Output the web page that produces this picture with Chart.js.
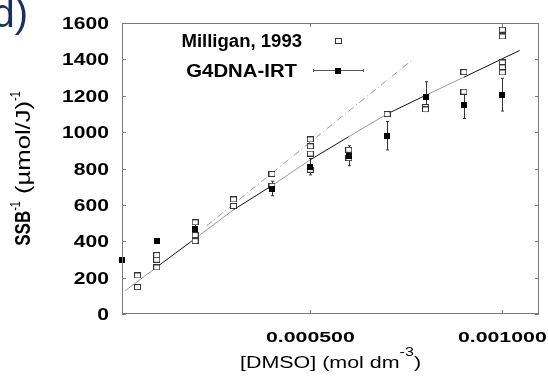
<!DOCTYPE html>
<html>
<head>
<meta charset="utf-8">
<script src="https://cdn.jsdelivr.net/npm/chart.js@4"></script>
<style>
  body { margin: 0; background: #fff; }
</style>
</head>
<body>
<canvas id="ssbChart" width="548" height="382"></canvas>
<script>
// Milligan, 1993 (open squares)
const milliganX = [0.00005, 0.00005, 0.0001, 0.0001, 0.0001, 0.0002, 0.0002, 0.0002, 0.0003, 0.0003,
  0.0004, 0.0004, 0.0005, 0.0005, 0.0005, 0.0005, 0.0006, 0.0006, 0.0007, 0.0008, 0.0008,
  0.0009, 0.0009, 0.001, 0.001, 0.001, 0.001, 0.001];
const milliganY = [212, 148, 324, 298, 256, 504, 434, 401, 630, 594,
  770, 705, 960, 922, 882, 793, 903, 857, 1099, 1138, 1125,
  1330, 1222, 1563, 1526, 1383, 1356, 1328];

// G4DNA-IRT (filled squares with error bars)
const g4dnaX = [0.00001, 0.0001, 0.0002, 0.0004, 0.0005, 0.0006, 0.0007, 0.0008, 0.0009, 0.001];
const g4dnaY = [295, 403, 470, 690, 810, 870, 980, 1195, 1150, 1206];
const g4dnaErr = [0, 10, 22, 40, 45, 55, 78, 82, 75, 90];

// solid fit curve and dash-dot line
const fitX = [0.000018, 0.0001, 0.0002, 0.0003, 0.0004, 0.0005, 0.0006, 0.0007, 0.0008, 0.0009, 0.001045];
const fitY = [128, 258, 415, 573, 706, 848, 975, 1100, 1202, 1302, 1449];
const dashX = [0.00023, 0.00077];
const dashY = [485, 1405];

// ticks
const yTicks = [0, 200, 400, 600, 800, 1000, 1200, 1400, 1600];
const xTickValues = [0.0005, 0.001];
const xTickLabels = ["0.000500", "0.001000"];

const FONT = '"Liberation Sans", Arial, sans-serif';

function makeSquare(w, h, fill, stroke) {
  const c = document.createElement("canvas");
  c.width = w;
  c.height = h;
  const g = c.getContext("2d");
  g.fillStyle = fill;
  g.fillRect(0, 0, w, h);
  if (stroke) {
    g.strokeStyle = stroke;
    g.lineWidth = 1;
    g.strokeRect(0.5, 0.5, w - 1, h - 1);
  }
  return c;
}
const openSquare = makeSquare(7, 6, "#fff", "#333");
const blackSquare = makeSquare(6, 6, "#000");

// text stretched horizontally, like the source figure
function stretchedText(ctx, text, x, y, font, sx, align) {
  ctx.save();
  ctx.translate(x, y);
  ctx.scale(sx, 1);
  ctx.font = font;
  ctx.textAlign = align || "left";
  ctx.textBaseline = "alphabetic";
  ctx.fillText(text, 0, 0);
  ctx.restore();
}

// draws parts (with superscripts) along the current x direction, centred on 0
function drawParts(ctx, parts) {
  let total = 0;
  parts.forEach((p) => {
    ctx.font = p.font;
    p.w = ctx.measureText(p.text).width * (p.sx || 1);
    total += p.w;
  });
  let x = -total / 2;
  parts.forEach((p) => {
    ctx.save();
    ctx.translate(x, -(p.raise || 0));
    ctx.scale(p.sx || 1, 1);
    ctx.font = p.font;
    ctx.textAlign = "left";
    ctx.textBaseline = "alphabetic";
    ctx.fillText(p.text, 0, 0);
    ctx.restore();
    x += p.w;
  });
}

const errorBars = {
  id: "errorBars",
  beforeDatasetsDraw(chart) {
    const ctx = chart.ctx;
    const xs = chart.scales.x;
    const ys = chart.scales.y;
    ctx.save();
    ctx.strokeStyle = "#333";
    ctx.lineWidth = 1;
    g4dnaX.forEach((xv, i) => {
      if (!g4dnaErr[i]) return;
      const px = Math.round(xs.getPixelForValue(xv)) + 0.5;
      const top = ys.getPixelForValue(g4dnaY[i] + g4dnaErr[i]);
      const bot = ys.getPixelForValue(g4dnaY[i] - g4dnaErr[i]);
      ctx.beginPath();
      ctx.moveTo(px, top);
      ctx.lineTo(px, bot);
      ctx.moveTo(px - 1.5, top);
      ctx.lineTo(px + 1.5, top);
      ctx.moveTo(px - 1.5, bot);
      ctx.lineTo(px + 1.5, bot);
      ctx.stroke();
    });
    ctx.restore();
  },
};

const frameAndLabels = {
  id: "frameAndLabels",
  afterDraw(chart) {
    const ctx = chart.ctx;
    const { left, right, top, bottom } = chart.chartArea;
    const xs = chart.scales.x;
    const ys = chart.scales.y;

    ctx.save();
    // box + inward ticks
    ctx.strokeStyle = "#7a7a7a";
    ctx.lineWidth = 1;
    ctx.strokeRect(left + 0.5, top + 0.5, right - left - 1, bottom - top - 1);
    ctx.beginPath();
    yTicks.forEach((v) => {
      const p = Math.round(ys.getPixelForValue(v)) + 0.5;
      ctx.moveTo(left, p);
      ctx.lineTo(left + 4, p);
      ctx.moveTo(right - 4, p);
      ctx.lineTo(right, p);
    });
    xTickValues.forEach((v) => {
      const p = Math.round(xs.getPixelForValue(v)) + 0.5;
      ctx.moveTo(p, top);
      ctx.lineTo(p, top + 4);
      ctx.moveTo(p, bottom - 4);
      ctx.lineTo(p, bottom);
    });
    ctx.stroke();

    // tick labels
    ctx.fillStyle = "#000";
    yTicks.forEach((v) => {
      stretchedText(ctx, String(v), left - 13, ys.getPixelForValue(v) + 6, "bold 17px " + FONT, 1.24, "right");
    });
    xTickValues.forEach((v, i) => {
      stretchedText(ctx, xTickLabels[i], xs.getPixelForValue(v), 342, "bold 15px " + FONT, 1.42, "center");
    });

    // x axis title
    ctx.save();
    ctx.translate((left + right) / 2, 368);
    ctx.scale(1.34, 1);
    drawParts(ctx, [
      { text: "[DMSO] (mol dm", font: "16px " + FONT },
      { text: "-3", font: "12px " + FONT, raise: 12 },
      { text: ")", font: "16px " + FONT },
    ]);
    ctx.restore();

    // y axis title
    ctx.save();
    ctx.translate(30, (top + bottom) / 2);
    ctx.scale(1.3, 1);
    ctx.rotate(-Math.PI / 2);
    drawParts(ctx, [
      { text: "SSB", font: "bold 17px " + FONT },
      { text: "-1", font: "11px " + FONT, raise: 8 },
      { text: " (\u00b5mol/J)", font: "16px " + FONT, sx: 1.6 },
      { text: "-1", font: "11px " + FONT, raise: 8 },
    ]);
    ctx.restore();

    // legend
    stretchedText(ctx, "Milligan, 1993", 302, 47, "bold 18px " + FONT, 1.03, "right");
    stretchedText(ctx, "G4DNA-IRT", 297, 77, "bold 18px " + FONT, 1.13, "right");
    ctx.drawImage(openSquare, 335, 38);
    ctx.strokeStyle = "#555";
    ctx.beginPath();
    ctx.moveTo(313, 70.5);
    ctx.lineTo(364, 70.5);
    ctx.moveTo(313.5, 69);
    ctx.lineTo(313.5, 72);
    ctx.moveTo(363.5, 69);
    ctx.lineTo(363.5, 72);
    ctx.stroke();
    ctx.drawImage(blackSquare, 335, 68);

    // panel letter
    ctx.fillStyle = "#1b2f5e";
    ctx.font = "40px " + FONT;
    ctx.textAlign = "right";
    ctx.fillText("d)", 28, 27);
    ctx.restore();
  },
};

const toPoints = (xs, ys) => xs.map((x, i) => ({ x: x, y: ys[i] }));

new Chart(document.getElementById("ssbChart"), {
  type: "scatter",
  data: {
    datasets: [
      {
        label: "G4DNA-IRT",
        data: toPoints(g4dnaX, g4dnaY),
        pointStyle: blackSquare,
        order: 1,
        clip: false,
      },
      {
        label: "Milligan, 1993",
        data: toPoints(milliganX, milliganY),
        pointStyle: openSquare,
        order: 2,
        clip: false,
      },
      {
        label: "fit",
        data: toPoints(fitX, fitY),
        showLine: true,
        pointRadius: 0,
        borderWidth: 1,
        borderColor: "#222",
        segment: {
          borderColor: (c) => (c.p0DataIndex % 2 ? "#111" : "#999"),
        },
        order: 3,
      },
      {
        label: "dash",
        data: toPoints(dashX, dashY),
        showLine: true,
        pointRadius: 0,
        borderWidth: 1,
        borderColor: "#9a9a9a",
        borderDash: [7, 3, 1, 3],
        order: 4,
      },
    ],
  },
  options: {
    responsive: false,
    animation: false,
    events: [],
    layout: { padding: { left: 0, right: 9, top: 23, bottom: 0 } },
    plugins: { legend: { display: false }, tooltip: { enabled: false } },
    scales: {
      x: {
        type: "linear",
        min: 0.0000095,
        max: 0.0010955,
        grid: { display: false },
        border: { display: false },
        ticks: { display: false },
        afterBuildTicks: (axis) => {
          axis.ticks = xTickValues.map((v) => ({ value: v }));
        },
        afterFit: (axis) => {
          axis.height = 68;
        },
      },
      y: {
        min: 0,
        max: 1600,
        grid: { display: false },
        border: { display: false },
        ticks: { display: false, stepSize: 200 },
        afterFit: (axis) => {
          axis.width = 122;
        },
      },
    },
  },
  plugins: [errorBars, frameAndLabels],
});
</script>
</body>
</html>
